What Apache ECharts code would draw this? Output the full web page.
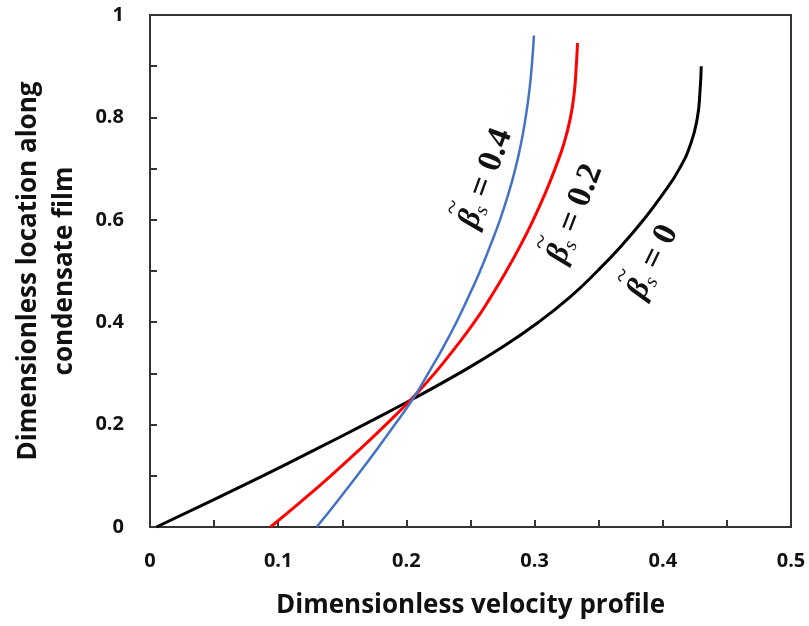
<!DOCTYPE html>
<html>
<head>
<meta charset="utf-8">
<script src="https://cdn.jsdelivr.net/npm/echarts@6/dist/echarts.min.js"></script>
<style>
  html, body { margin: 0; padding: 0; background: #fff; }
  #main { width: 809px; height: 626px; }
</style>
</head>
<body>
<div id="main"></div>
<script>
// curves, [velocity, location]
var beta0 = [[0.005, 0], [0.047, 0.05], [0.088, 0.1], [0.128, 0.15], [0.167, 0.2], [0.205, 0.25],
    [0.241, 0.3], [0.274, 0.35], [0.303, 0.4], [0.328, 0.45], [0.349, 0.5], [0.368, 0.55],
    [0.385, 0.6], [0.400, 0.65], [0.413, 0.7], [0.422, 0.75], [0.427, 0.8], [0.429, 0.85], [0.430, 0.9]];
var beta02 = [[0.094, 0], [0.118, 0.05], [0.141, 0.1], [0.163, 0.15], [0.184, 0.2], [0.204, 0.25],
    [0.222, 0.3], [0.238, 0.35], [0.253, 0.4], [0.266, 0.45], [0.278, 0.5], [0.289, 0.55],
    [0.299, 0.6], [0.308, 0.65], [0.316, 0.7], [0.323, 0.75], [0.328, 0.8], [0.331, 0.85],
    [0.3325, 0.9], [0.3335, 0.945]];
var beta04 = [[0.130, 0], [0.146, 0.05], [0.1615, 0.1], [0.1765, 0.15], [0.191, 0.2], [0.205, 0.25],
    [0.217, 0.3], [0.2285, 0.35], [0.239, 0.4], [0.2485, 0.45], [0.2575, 0.5], [0.2655, 0.55],
    [0.273, 0.6], [0.2795, 0.65], [0.285, 0.7], [0.2895, 0.75], [0.293, 0.8], [0.2958, 0.85],
    [0.2978, 0.9], [0.2995, 0.96]];
var labelText = ["0", "0.2", "0.4"];
// where each curve label starts (lower end of the rotated text)
var labelPos = [[0.377, 0.452], [0.315, 0.52], [0.246, 0.588]];
var labelAngle = [64, 69, 70];

var myChart = echarts.init(document.getElementById("main"));

var tickFont = {
    color: "#111",
    fontFamily: "Open Sans",
    fontWeight: "bold",
    fontSize: 20
};

var curveLabel = function (i) {
    return {
        symbol: "circle",
        symbolSize: 0,
        silent: true,
        data: [{coord: labelPos[i]}],
        label: {
            show: true,
            position: "inside",
            align: "left",
            verticalAlign: "middle",
            rotate: labelAngle[i],
            formatter: "{t|~}\n{b|β}{s|s}{n| = " + labelText[i] + "}",
            rich: {
                t: {fontFamily: "Liberation Serif", fontSize: 27, lineHeight: 6, color: "#111", padding: [0, 0, 0, 6]},
                b: {fontFamily: "Liberation Serif", fontStyle: "italic", fontWeight: "bold", fontSize: 32, lineHeight: 25, color: "#111"},
                s: {fontFamily: "Liberation Serif", fontStyle: "italic", fontSize: 20, color: "#111", padding: [15, 0, 0, 0]},
                n: {fontFamily: "Liberation Serif", fontWeight: "bold", fontSize: 34, color: "#111"}
            }
        }
    };
};

var option = {
    animation: false,
    backgroundColor: "#fff",
    grid: {
        left: 150,
        right: 18,
        top: 15,
        bottom: 99,
        show: true,
        borderColor: "#333",
        borderWidth: 2
    },
    xAxis: {
        type: "value",
        min: 0,
        max: 0.5,
        interval: 0.1,
        name: "Dimensionless velocity profile",
        nameLocation: "middle",
        nameGap: 66,
        nameTextStyle: {color: "#111", fontFamily: "Open Sans", fontWeight: "bold", fontSize: 26},
        axisLine: {show: true, lineStyle: {color: "#333", width: 2}},
        axisTick: {show: true, inside: true, length: 7, lineStyle: {color: "#333", width: 2}},
        minorTick: {show: true, splitNumber: 2, length: 7, lineStyle: {color: "#333", width: 2}},
        splitLine: {show: false},
        axisLabel: Object.assign({margin: 24, formatter: function (v) { return String(+v.toFixed(1)); }}, tickFont)
    },
    yAxis: {
        type: "value",
        min: 0,
        max: 1,
        interval: 0.2,
        name: "Dimensionless location along\ncondensate film",
        nameLocation: "middle",
        nameGap: 67,
        nameTextStyle: {color: "#111", fontFamily: "Open Sans", fontWeight: "bold", fontSize: 26, lineHeight: 36},
        axisLine: {show: true, lineStyle: {color: "#333", width: 2}},
        axisTick: {show: true, inside: true, length: 7, lineStyle: {color: "#333", width: 2}},
        minorTick: {show: true, splitNumber: 2, length: 7, lineStyle: {color: "#333", width: 2}},
        splitLine: {show: false},
        axisLabel: Object.assign({margin: 26, formatter: function (v) { return String(+v.toFixed(1)); }}, tickFont)
    },
    series: [
        {
            name: "beta0",
            type: "line",
            data: beta0,
            smooth: 0.5,
            symbol: "none",
            lineStyle: {color: "#000", width: 3},
            markPoint: curveLabel(0)
        },
        {
            name: "beta02",
            type: "line",
            data: beta02,
            smooth: 0.5,
            symbol: "none",
            lineStyle: {color: "#ff0000", width: 3},
            markPoint: curveLabel(1)
        },
        {
            name: "beta04",
            type: "line",
            data: beta04,
            smooth: 0.5,
            symbol: "none",
            lineStyle: {color: "#4472c4", width: 2.5},
            markPoint: curveLabel(2)
        }
    ]
};
myChart.setOption(option);
</script>
</body>
</html>
